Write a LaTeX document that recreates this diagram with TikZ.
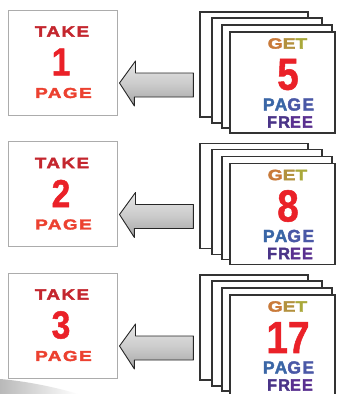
\documentclass[tikz,border=0pt]{standalone}
\usepackage{fontspec}
\usepackage{graphicx}
\usetikzlibrary{calc}
\newfontfamily\wfont[LetterSpace=8,FakeBold=2.2]{Liberation Sans Bold}
\newfontfamily\nfont[FakeBold=1.2]{Liberation Sans Bold}
\definecolor{takered}{HTML}{C4262E}
\definecolor{numred}{HTML}{EA2128}
\definecolor{pagered}{HTML}{EC4130}
\definecolor{gG}{HTML}{C97A3A}
\definecolor{gE}{HTML}{B3913E}
\definecolor{gT}{HTML}{A9A83A}
\definecolor{pblue}{HTML}{3A66A6}
\definecolor{pblueb}{HTML}{4A58A6}
\definecolor{fpurp}{HTML}{4A3488}
\definecolor{fpurpb}{HTML}{5A3090}
\newcommand\wtxt[3]{\scalebox{#2}[1]{\fontsize{#1}{#1}\wfont #3}}
\newcommand\ntxt[2]{\scalebox{0.86}[1]{\fontsize{#1}{#1}\nfont #2}}
\tikzset{
  takebox/.style={draw=gray!65, line width=1pt, fill=white, minimum width=109pt, minimum height=105pt, inner sep=0pt},
  sheet/.style={draw=black!80, line width=1.2pt, fill=white, inner sep=0pt},
  lbl/.style={inner sep=0pt, anchor=center},
  blockarrow/.style={draw=black!85, line width=0.9pt, line join=round, top color=gray!20, bottom color=gray!70, middle color=gray!40}
}
\begin{document}
\begin{tikzpicture}[x=1pt,y=-1pt]
\fill[white] (0,0) rectangle (338,394);
\useasboundingbox (0,0) rectangle (338,394);
% faint shadow bottom-left
\shade[left color=gray!55, right color=white] (0,379) .. controls (25,381) and (55,387) .. (78,394) -- (0,394) -- cycle;
\foreach \i/\n/\m in {0/1/5, 1/2/8, 2/3/17} {
  \pgfmathsetmacro\dy{\i*131.5}
  % left box
  \node[takebox] (take\i) at (62.5,62.5+\dy) {};
  \node[lbl, text=takered] (taket\i) at (62,31.5+\dy) {\wtxt{15}{1.25}{TAKE}};
  \node[lbl, text=numred] (taken\i) at (61,62+\dy) {\ntxt{39}{\n}};
  \node[lbl, text=pagered] (takep\i) at (63.5,93+\dy) {\wtxt{14.5}{1.3}{PAGE}};
  % stacked sheets
  \node[sheet, minimum width=108pt, minimum height=105pt] (sa\i) at (254,64.5+\dy) {};
  \node[sheet, minimum width=110pt, minimum height=105pt] (sb\i) at (267,70.5+\dy) {};
  \node[sheet, minimum width=110pt, minimum height=103pt] (sc\i) at (277,76.5+\dy) {};
  \node[sheet, minimum width=105pt, minimum height=101pt] (front\i) at (282.5,82.5+\dy) {};
  \node[lbl] (get\i) at (287.5,43.5+\dy) {\wtxt{15}{1.28}{\textcolor{gG}{G}\textcolor{gE}{E}\textcolor{gT}{T}}};
  \node[lbl, text=numred] (getn\i) at (288,74.5+\dy) {\ntxt{45}{\m}};
  \node[lbl] (getp\i) at (288.5,104.5+\dy) {\wtxt{17.5}{1.0}{\textcolor{pblue}{PA}\textcolor{pblueb}{GE}}};
  \node[lbl] (getf\i) at (290,122+\dy) {\wtxt{16.5}{0.98}{\textcolor{fpurp}{FR}\textcolor{fpurpb}{EE}}};
  % block arrow from sheets to box
  \coordinate (tip\i) at ($(take\i.east)+(2,20.5)$);
  \coordinate (tail\i) at ($(front\i.west)+(-36,0)$);
  \path[blockarrow] (tip\i) -- ++(16,-22) -- ++(0,12) -- (tail\i |- 0,73+\dy) -- (tail\i |- 0,97+\dy) -- ++(-59,0) -- ++(0,9) -- cycle;
}
\end{tikzpicture}
\end{document}
